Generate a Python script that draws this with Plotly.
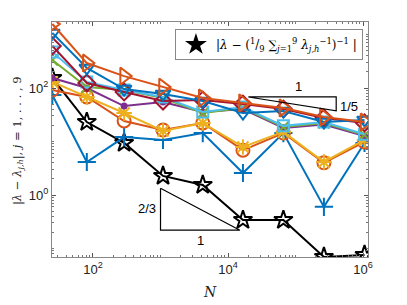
import math
import plotly.graph_objects as go

# ---- data ----
N = [25, 81, 289, 1089, 4225, 16641, 66049, 263169, 1050625]

err_harm = [154, 23.1, 9.4, 2.27, 1.54, 0.34, 0.34, 0.0694, 0.0757]

s1 = [74, 4.14, 12.1, 10.7, 14.4, 2.58, 14.4, 0.60, 9.4]
s2 = [92, 68, 24.2, 16.4, 22.2, 6.9, 14.4, 4.0, 9.8]
s3 = [130, 68, 34.1, 15.7, 22.2, 7.9, 15.1, 4.14, 10.7]
s4 = [154, 100, 46, 54.7, 35.6, 40.5, 17.9, 20.7, 12.7]
s5 = [334, 104, 91.8, 65.0, 34.1, 42.3, 18.7, 22.2, 13.2]
s6 = [471, 130, 91.8, 67.9, 35.6, 44.1, 19.6, 23.1, 13.7]
s7 = [610, 124, 84.2, 57.1, 59.7, 50.2, 40.5, 27.5, 22.2]
s8 = [1067, 237, 95.8, 77.3, 57.1, 34.1, 37.1, 23.1, 25.3]
s9 = [1571, 293, 167, 104, 65.0, 52.5, 42.3, 28.7, 23.1]

series = [s1, s2, s3, s4, s5, s6, s7, s8, s9]
colors = ["#0072BD", "#D95319", "#EDB120", "#7E2F8E", "#77AC30",
          "#4DBEEE", "#A2142F", "#0072BD", "#D95319"]
symbols = ["cross-thin-open", "circle-open", "asterisk-open", "circle",
           "x-thin-open", "square-open", "diamond-open",
           "triangle-down-open", "triangle-right-open"]
sizes = [13, 13, 13, 5, 11, 11, 13, 13, 15]

# slope triangles (data coordinates)
tri1_x = [2e4, 4e5, 4e5, 2e4]
tri1_y = [68, 68, 68 / 20 ** 0.2, 68]
tri2_x = [1000, 1000, 15000, 1000]
tri2_y = [1.34, 0.22, 0.22, 1.34]

x_ticks = [1e2, 1e4, 1e6]
x_ticktext = ["10<sup>2</sup>", "10<sup>4</sup>", "10<sup>6</sup>"]
y_ticks = [1e0, 1e2]
y_ticktext = ["10<sup>0</sup>", "10<sup>2</sup>"]

legend_text = ("|<i>λ</i> − (<sup>1</sup>/<sub>9</sub> ∑<sub><i>j</i>=1</sub><sup>9</sup> "
               "<i>λ</i><sub><i>j,h</i></sub><sup>−1</sup>)<sup>−1</sup> |")

fig = go.Figure()

# black series first
fig.add_trace(go.Scatter(
    x=N, y=err_harm, mode="lines+markers", showlegend=False,
    line=dict(color="black", width=2),
    marker=dict(symbol="star-open", size=14, color="black", line=dict(width=2, color="black")),
))

for s, c, sym, sz in zip(series, colors, symbols, sizes):
    fig.add_trace(go.Scatter(
        x=N, y=s, mode="lines+markers", showlegend=False,
        line=dict(color=c, width=2),
        marker=dict(symbol=sym, size=sz, color=c, line=dict(width=2, color=c)),
    ))

# slope triangles
for tx, ty in [(tri1_x, tri1_y), (tri2_x, tri2_y)]:
    fig.add_trace(go.Scatter(x=tx, y=ty, mode="lines", showlegend=False,
                             line=dict(color="black", width=1.2), hoverinfo="skip"))

# legend-only entry
fig.add_trace(go.Scatter(
    x=[None], y=[None], mode="markers", name=legend_text,
    marker=dict(symbol="star", size=13, color="black", line=dict(width=1.5, color="black")),
))

ann_font = dict(family="Liberation Sans, Arial", size=13, color="black")
fig.add_annotation(x=math.log10(1.1e5), y=math.log10(68), text="1", showarrow=False,
                   yanchor="bottom", yshift=1, font=ann_font)
fig.add_annotation(x=math.log10(4e5), y=math.log10(45), text="1/5", showarrow=False,
                   xanchor="left", xshift=2, font=ann_font)
fig.add_annotation(x=math.log10(1000), y=math.log10(0.55), text="2/3", showarrow=False,
                   xanchor="right", xshift=-3, font=ann_font)
fig.add_annotation(x=math.log10(3900), y=math.log10(0.22), text="1", showarrow=False,
                   yanchor="top", yshift=-1, font=ann_font)

# axis titles as annotations (paper coords)
fig.add_annotation(xref="paper", yref="paper", x=(210 - 52) / 316, y=-(292 - 257) / 235,
                   text="<i>N</i>", showarrow=False, xanchor="center", yanchor="middle",
                   font=dict(family="DejaVu Serif, serif", size=14, color="#222222"))
fig.add_annotation(xref="paper", yref="paper", x=-(52 - 17) / 316, y=(257 - 141) / 235,
                   text="|<i>λ</i> − <i>λ</i><sub><i>j,h</i></sub>|, <i>j</i> = 1, . . . , 9",
                   textangle=-90, showarrow=False, xanchor="center", yanchor="middle",
                   font=dict(family="DejaVu Serif, serif", size=11.5, color="#222222"))

axis_common = dict(
    type="log", showgrid=False, zeroline=False, showline=True, mirror="ticks", automargin=False,
    linecolor="#888888", linewidth=1, ticks="inside", ticklen=4, tickcolor="#555555",
    tickfont=dict(family="Liberation Sans, Arial", size=13, color="#222222"),
    minor=dict(ticks="inside", ticklen=2, tickcolor="#777777", dtick="D1", showgrid=False),
)

fig.update_xaxes(range=[1.393, 6.073], tickmode="array", tickvals=x_ticks, ticktext=x_ticktext,
                 **axis_common)
fig.update_yaxes(range=[-1.159, 3.234], tickmode="array", tickvals=y_ticks, ticktext=y_ticktext,
                 **axis_common)

fig.update_layout(
    template=None,
    width=407, height=305,
    margin=dict(l=52, r=39, t=22, b=48, autoexpand=False),
    paper_bgcolor="white", plot_bgcolor="white",
    showlegend=True,
    legend=dict(x=0.984, y=0.970, xanchor="right", yanchor="top",
                bgcolor="white", bordercolor="#888888", borderwidth=1,
                font=dict(family="DejaVu Serif, serif", size=12, color="black"),
                itemwidth=30, tracegroupgap=0),
)

fig.write_html("out.html", config={"displayModeBar": False},
               post_script="document.body.style.margin='0';document.body.style.padding='0';")
